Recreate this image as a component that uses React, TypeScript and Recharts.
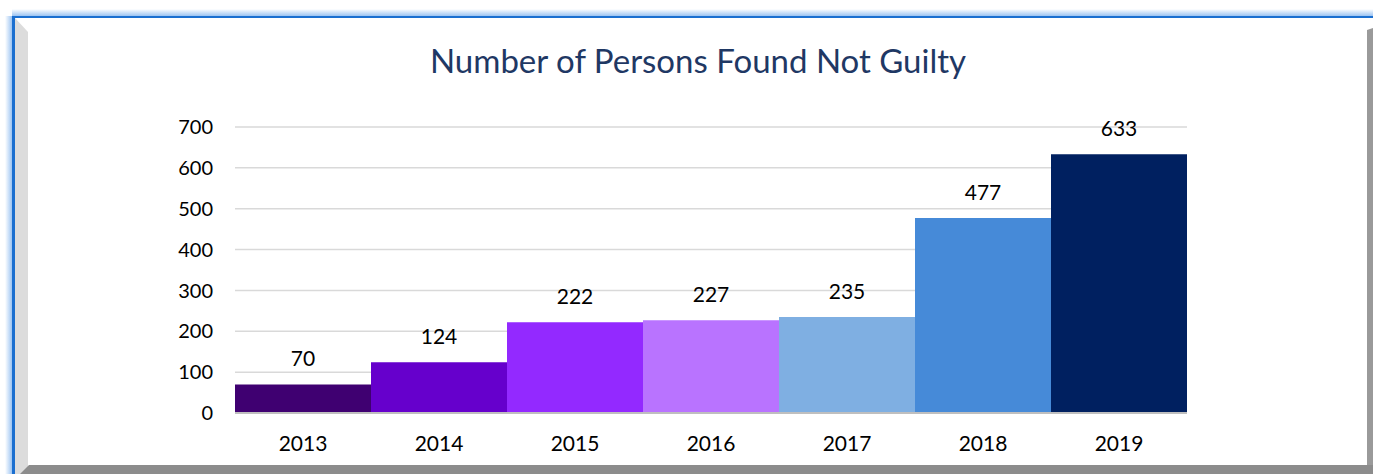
import { BarChart, Bar, XAxis, YAxis, CartesianGrid, Cell, LabelList } from 'recharts';

const years = ['2013', '2014', '2015', '2016', '2017', '2018', '2019'];
const notGuilty = [70, 124, 222, 227, 235, 477, 633];
const barColors = ['#3f0071', '#6600cc', '#9329ff', '#b973ff', '#7fafe2', '#468ad8', '#002060'];
const yTicks = [0, 100, 200, 300, 400, 500, 600, 700];

const W = 1373;
const H = 474;
const FONT = 'Lato, "Open Sans", sans-serif';

export default function App() {
  const data = years.map((year, i) => ({ year, value: notGuilty[i] }));

  return (
    <div style={{ position: 'absolute', left: 0, top: 0, width: W, height: H, background: '#fff' }}>
      {/* frame behind the chart */}
      <svg width={W} height={H} style={{ position: 'absolute', left: 0, top: 0 }}>
        <defs>
          <linearGradient id="glowTop" x1="0" y1="0" x2="0" y2="1">
            <stop offset="0" stopColor="#ffffff" />
            <stop offset="1" stopColor="#9cc4f2" />
          </linearGradient>
          <linearGradient id="glowLeft" x1="0" y1="0" x2="1" y2="0">
            <stop offset="0" stopColor="#ffffff" />
            <stop offset="1" stopColor="#9cc4f2" />
          </linearGradient>
        </defs>
        <rect x={12} y={9} width={W - 12} height={7} fill="url(#glowTop)" />
        <rect x={5} y={16} width={7} height={H - 16} fill="url(#glowLeft)" />
        <rect x={12} y={16} width={W - 12} height={2} fill="#1b6fd0" />
        <rect x={12} y={16} width={3} height={H - 16} fill="#1b6fd0" />
        <polygon points={`15,18 28,32 28,${H} 15,${H}`} fill="#dcdcdc" />
        <polygon points={`${W - 6},30 ${W},28 ${W},${H} ${W - 6},${H}`} fill="#9a9a9a" />
        <polygon points={`20,${H} 29,465 ${W},465 ${W},${H}`} fill="#8c8c8c" />
        <text
          x={698}
          y={73}
          textAnchor="middle"
          fontFamily={FONT}
          fontSize={33}
          fill="#1f3864"
        >
          Number of Persons Found Not Guilty
        </text>
      </svg>

      <div style={{ position: 'absolute', left: 0, top: 0 }}>
        <BarChart
          width={W}
          height={H}
          data={data}
          barCategoryGap={0}
          margin={{ top: 127, right: 186, bottom: 31, left: 175 }}
        >
          <CartesianGrid vertical={false} stroke="#d9d9d9" strokeWidth={1.5} />
          <XAxis
            dataKey="year"
            height={30}
            axisLine={{ stroke: '#bfbfbf', strokeWidth: 2 }}
            tickLine={false}
            tickSize={0}
            tickMargin={23}
            tick={{ fill: '#000', fontSize: 21, fontFamily: FONT }}
          />
          <YAxis
            width={60}
            domain={[0, 700]}
            ticks={yTicks}
            axisLine={false}
            tickLine={false}
            tickSize={0}
            tickMargin={22}
            tick={{ fill: '#000', fontSize: 20, fontFamily: FONT }}
          />
          <Bar dataKey="value" isAnimationActive={false}>
            {data.map((d, i) => (
              <Cell key={d.year} fill={barColors[i]} />
            ))}
            <LabelList
              dataKey="value"
              position="top"
              offset={18}
              fill="#000"
              fontSize={21}
              fontFamily={FONT}
            />
          </Bar>
        </BarChart>
      </div>
    </div>
  );
}
